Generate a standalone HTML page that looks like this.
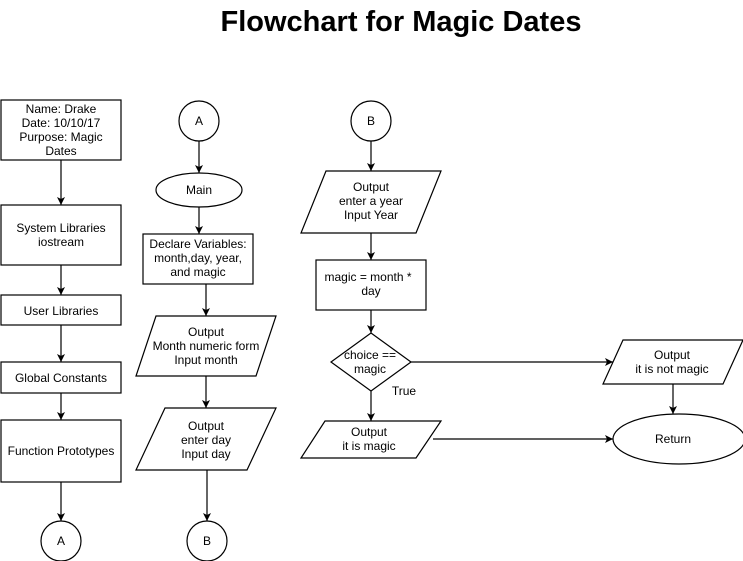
<!DOCTYPE html>
<html><head><style>body{margin:0;background:#fff}svg{display:block}text{font-family:"Liberation Sans",sans-serif;font-size:12px;fill:#000}</style></head>
<body>
<svg width="743" height="561" viewBox="0 0 743 561" xmlns="http://www.w3.org/2000/svg">
<defs><marker id="a" markerWidth="10" markerHeight="10" refX="9" refY="5" orient="auto" markerUnits="userSpaceOnUse"><path d="M1,1 L9,5 L1,9 L3,5 Z" fill="#000"/></marker></defs>
<text x="401" y="31" text-anchor="middle" style="font-size:29px;font-weight:bold">Flowchart for Magic Dates</text>
<g fill="#fff" stroke="#000" stroke-width="1.2">
<rect x="1" y="100" width="120" height="60"/>
<rect x="1" y="205" width="120" height="60"/>
<rect x="1" y="295" width="120" height="30"/>
<rect x="1" y="362" width="120" height="31"/>
<rect x="1" y="420" width="120" height="62"/>
<circle cx="61" cy="541" r="20"/>
<circle cx="199" cy="121" r="20"/>
<ellipse cx="199" cy="190" rx="43" ry="17"/>
<rect x="143" y="234" width="110" height="50"/>
<path d="M156,316 L276,316 L256,376 L136,376 Z"/>
<path d="M165,408 L276,408 L247,470 L136,470 Z"/>
<circle cx="207" cy="541" r="20"/>
<circle cx="371" cy="121" r="20"/>
<path d="M326,171 L441,171 L416,233 L301,233 Z"/>
<rect x="316" y="260" width="110" height="50"/>
<path d="M371,333 L411,362 L371,391 L331,362 Z"/>
<path d="M325,421 L441,421 L416,458 L301,458 Z"/>
<path d="M623,340 L743,340 L723,384 L603,384 Z"/>
<ellipse cx="679" cy="439" rx="66" ry="25"/>
</g>
<g stroke="#000" stroke-width="1.2" fill="none" marker-end="url(#a)">
<line x1="61" y1="160" x2="61" y2="205"/>
<line x1="61" y1="265" x2="61" y2="295"/>
<line x1="61" y1="325" x2="61" y2="362"/>
<line x1="61" y1="393" x2="61" y2="420"/>
<line x1="61" y1="482" x2="61" y2="521"/>
<line x1="199" y1="141" x2="199" y2="173"/>
<line x1="199" y1="207" x2="199" y2="234"/>
<line x1="206" y1="284" x2="206" y2="316"/>
<line x1="206" y1="376" x2="206" y2="408"/>
<line x1="207" y1="470" x2="207" y2="521"/>
<line x1="371" y1="141" x2="371" y2="171"/>
<line x1="371" y1="233" x2="371" y2="260"/>
<line x1="371" y1="310" x2="371" y2="333"/>
<line x1="371" y1="391" x2="371" y2="421"/>
<line x1="411" y1="362" x2="613" y2="362"/>
<line x1="673" y1="384" x2="673" y2="414"/>
<line x1="433" y1="439" x2="613" y2="439"/>
</g>
<g text-anchor="middle">
<text x="61" y="113">Name: Drake</text><text x="61" y="127">Date: 10/10/17</text><text x="61" y="141">Purpose: Magic</text><text x="61" y="155">Dates</text>
<text x="61" y="232">System Libraries</text><text x="61" y="246">iostream</text>
<text x="61" y="315">User Libraries</text>
<text x="61" y="382">Global Constants</text>
<text x="61" y="455">Function Prototypes</text>
<text x="61" y="545">A</text>
<text x="199" y="125">A</text>
<text x="199" y="194">Main</text>
<text x="198" y="248">Declare Variables:</text><text x="198" y="262">month,day, year,</text><text x="198" y="276">and magic</text>
<text x="206" y="336">Output</text><text x="206" y="350">Month numeric form</text><text x="206" y="364">Input month</text>
<text x="206" y="430">Output</text><text x="206" y="444">enter day</text><text x="206" y="458">Input day</text>
<text x="207" y="545">B</text>
<text x="371" y="125">B</text>
<text x="371" y="191">Output</text><text x="371" y="205">enter a year</text><text x="371" y="219">Input Year</text>
<text x="368" y="281">magic = month *</text><text x="371" y="295">day</text>
<text x="370" y="359">choice ==</text><text x="370" y="373">magic</text>
<text x="404" y="395">True</text>
<text x="369" y="436">Output</text><text x="369" y="450">it is magic</text>
<text x="672" y="359">Output</text><text x="672" y="373">it is not magic</text>
<text x="673" y="443">Return</text>
</g>
</svg>
</body></html>
